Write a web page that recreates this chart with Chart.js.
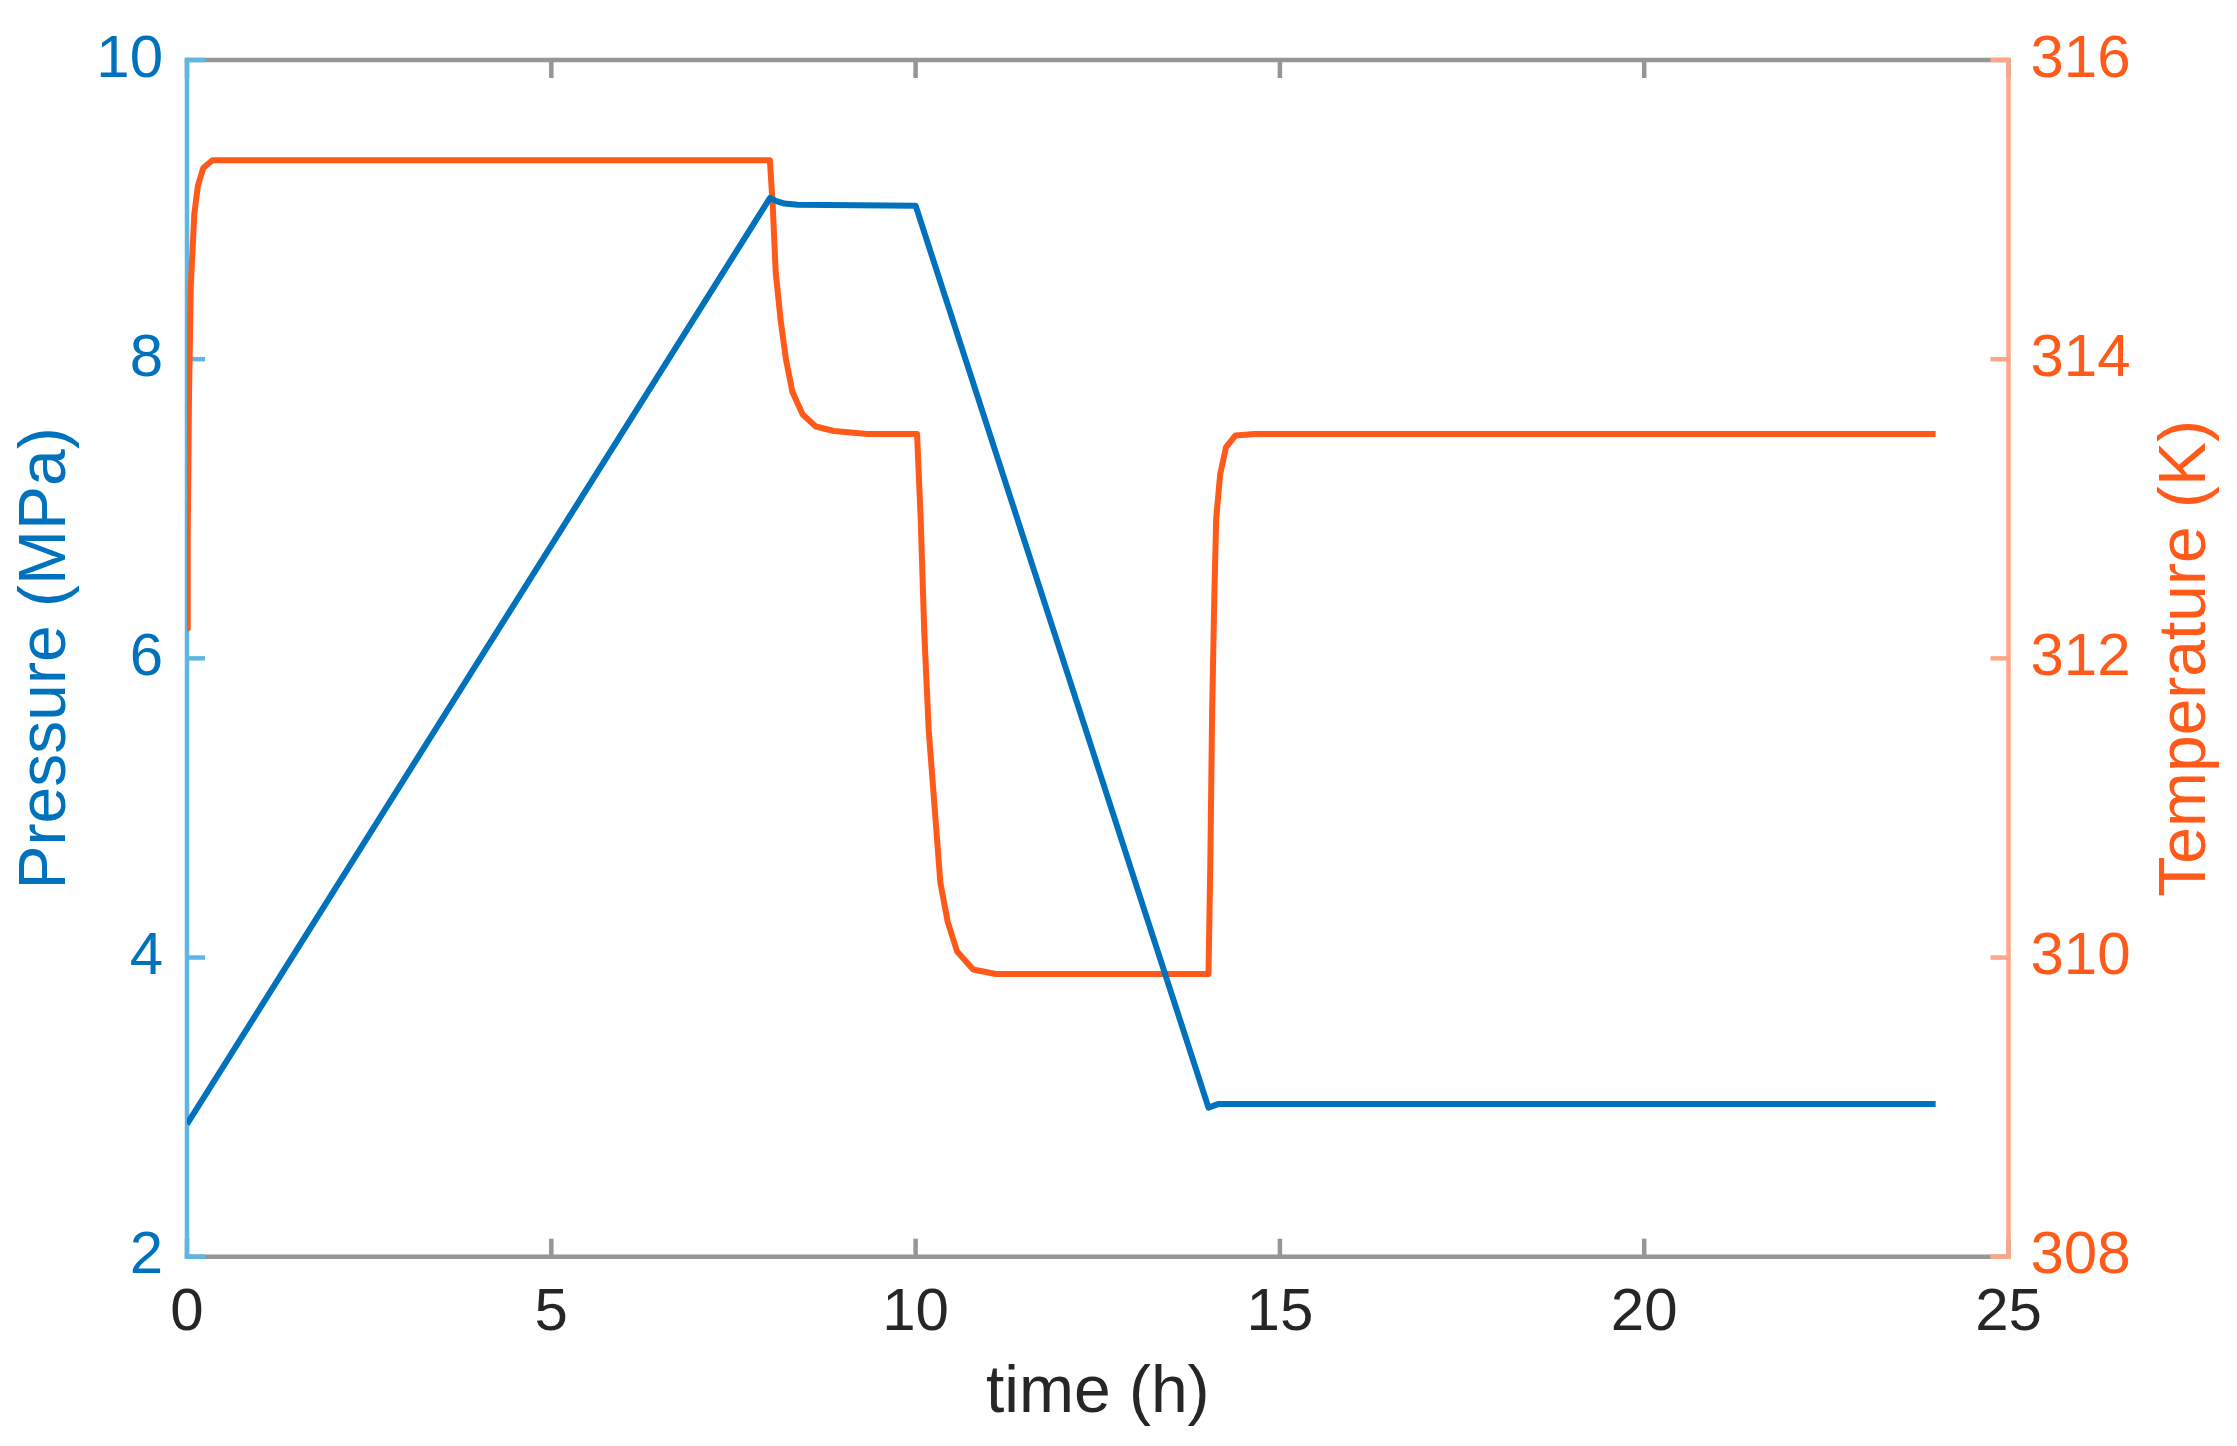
<!DOCTYPE html>
<html><head><meta charset="utf-8">
<script src="https://cdn.jsdelivr.net/npm/chart.js@4/dist/chart.umd.min.js"></script>
<style>html,body{margin:0;padding:0;background:#fff;overflow:hidden}#wrap{width:2237px;height:1446px;position:relative}</style>
</head><body><div id="wrap"><canvas id="c" width="2237" height="1446"></canvas></div>
<script>
// ---- data ----
const timePressure = [0, 8.0, 8.1, 8.2, 8.38, 10.0, 14.02, 14.15, 24];
const pressureMPa  = [2.886, 9.077, 9.055, 9.04, 9.033, 9.026, 2.997, 3.02, 3.02];

const timeTemperature = [0, 0.01, 0.028, 0.052, 0.10, 0.15, 0.225, 0.35,
  8.0, 8.04, 8.08, 8.15, 8.22, 8.31, 8.45, 8.63, 8.88, 9.34,
  10.02, 10.07, 10.12, 10.18, 10.26, 10.34, 10.44, 10.57, 10.79, 11.1,
  14.02, 14.045, 14.07, 14.10, 14.125, 14.18, 14.26, 14.39, 14.65, 24];
const temperatureK = [312.2, 312.82, 313.77, 314.49, 314.97, 315.16, 315.28, 315.33,
  315.33, 315.02, 314.58, 314.25, 314.00, 313.78, 313.63, 313.55, 313.52, 313.50,
  313.50, 312.93, 312.16, 311.52, 311.01, 310.50, 310.24, 310.04, 309.92, 309.89,
  309.89, 310.63, 311.65, 312.41, 312.93, 313.23, 313.41, 313.49, 313.50, 313.50];

const xTicks = [0, 5, 10, 15, 20, 25];
const pressureTicks = [2, 4, 6, 8, 10];
const temperatureTicks = [308, 310, 312, 314, 316];

const xTitle = 'time (h)';
const leftTitle = 'Pressure (MPa)';
const rightTitle = 'Temperature (K)';

// ---- styles ----
const FONT = '"Liberation Sans", Arial, Helvetica, sans-serif';
const BLUE = '#0072BD';
const ORANGE = '#FF5A1A';
const BLUE_AXIS = '#5DB6E3';
const ORANGE_AXIS = '#FFA688';
const GRAY_AXIS = '#969696';
const TEXT = '#262626';
const TICK_LEN = 18;
const AXIS_W = 4.5;

Chart.defaults.font.family = FONT;

const axesPlugin = {
  id: 'matlabAxes',
  beforeDatasetsDraw(chart) {
    const {ctx, chartArea: {left, right, top, bottom}, scales} = chart;
    const seg = (x1, y1, x2, y2) => { ctx.beginPath(); ctx.moveTo(x1, y1); ctx.lineTo(x2, y2); ctx.stroke(); };
    ctx.save();
    ctx.lineWidth = AXIS_W;
    ctx.lineCap = 'square';
    ctx.strokeStyle = GRAY_AXIS;
    seg(left, bottom, right, bottom);
    seg(left, top, right, top);
    ctx.lineCap = 'butt';
    scales.x.ticks.forEach(t => {
      const px = scales.x.getPixelForValue(t.value);
      seg(px, bottom, px, bottom - TICK_LEN);
      seg(px, top, px, top + TICK_LEN);
    });
    ctx.lineCap = 'square';
    ctx.strokeStyle = BLUE_AXIS;
    seg(left, top, left, bottom);
    ctx.lineCap = 'butt';
    scales.y.ticks.forEach(t => {
      const py = scales.y.getPixelForValue(t.value);
      seg(left, py, left + TICK_LEN, py);
    });
    ctx.lineCap = 'square';
    ctx.strokeStyle = ORANGE_AXIS;
    seg(right, top, right, bottom);
    ctx.lineCap = 'butt';
    scales.y1.ticks.forEach(t => {
      const py = scales.y1.getPixelForValue(t.value);
      seg(right, py, right - TICK_LEN, py);
    });
    ctx.restore();
  },
  afterDraw(chart) {
    const {ctx, chartArea: {top, bottom}} = chart;
    ctx.save();
    ctx.translate(2187, (top + bottom) / 2);
    ctx.rotate(-Math.PI / 2);
    ctx.font = '66px ' + FONT;
    ctx.fillStyle = ORANGE;
    ctx.textAlign = 'center';
    ctx.textBaseline = 'middle';
    ctx.fillText(rightTitle, 0, 0);
    ctx.restore();
  }
};

const toPoints = (xs, ys) => xs.map((x, i) => ({x: x, y: ys[i]}));

new Chart(document.getElementById('c'), {
  type: 'line',
  data: {
    datasets: [
      {label: leftTitle, data: toPoints(timePressure, pressureMPa), yAxisID: 'y',
       borderColor: BLUE, borderWidth: 6, pointRadius: 0, tension: 0, fill: false, borderJoinStyle: 'round'},
      {label: rightTitle, data: toPoints(timeTemperature, temperatureK), yAxisID: 'y1',
       borderColor: ORANGE, borderWidth: 6, pointRadius: 0, tension: 0, fill: false, borderJoinStyle: 'round'}
    ]
  },
  options: {
    responsive: false,
    animation: false,
    devicePixelRatio: 1,
    layout: {padding: {top: 52.5, left: 0, right: 0, bottom: 0}},
    plugins: {legend: {display: false}, tooltip: {enabled: false}},
    scales: {
      x: {
        type: 'linear', min: 0, max: 25,
        afterBuildTicks: s => { s.ticks = xTicks.map(v => ({value: v})); },
        afterFit: s => { s.height = 1446 - 1256.7; },
        grid: {display: false, drawTicks: false, tickLength: 0},
        border: {display: false},
        ticks: {font: {size: 60}, color: TEXT, padding: 21, maxRotation: 0, autoSkip: false},
        title: {display: true, text: xTitle, font: {size: 66}, color: TEXT, padding: {top: 0, bottom: 13}}
      },
      y: {
        type: 'linear', position: 'left', min: 2, max: 10,
        afterBuildTicks: s => { s.ticks = pressureTicks.map(v => ({value: v})); },
        afterFit: s => { s.width = 187; },
        grid: {display: false, drawTicks: false, tickLength: 0},
        border: {display: false},
        ticks: {font: {size: 60}, color: BLUE, padding: 24},
        title: {display: true, text: leftTitle, font: {size: 66}, color: BLUE, padding: {top: 7, bottom: 0}}
      },
      y1: {
        type: 'linear', position: 'right', min: 308, max: 316,
        afterBuildTicks: s => { s.ticks = temperatureTicks.map(v => ({value: v})); },
        afterFit: s => { s.width = 2237 - 2008.5; },
        grid: {display: false, drawTicks: false, tickLength: 0},
        border: {display: false},
        ticks: {font: {size: 60}, color: ORANGE, padding: 22},
        title: {display: false, text: rightTitle}
      }
    }
  },
  plugins: [axesPlugin]
});
</script></body></html>
